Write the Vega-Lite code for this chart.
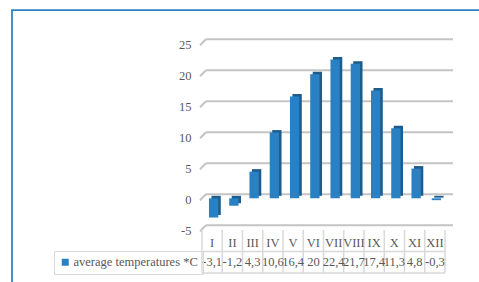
{
  "$schema": "https://vega.github.io/schema/vega-lite/v6.json",
  "width": 470,
  "height": 275,
  "autosize": {"type": "none"},
  "padding": {"left": 12, "top": 10, "right": -3, "bottom": -3},
  "background": "white",
  "config": {
    "font": "Liberation Serif",
    "view": {"stroke": "#2e80c3", "strokeWidth": 1.75},
    "axis": {"labelFont": "Liberation Serif"},
    "legend": {"labelFont": "Liberation Serif"},
    "locale": {"number": {"decimal": ",", "thousands": " ", "grouping": [3], "currency": ["", ""], "minus": "-"}}
  },
  "datasets": {
    "temps": [
      {"month": "I", "temp": -3.1},
      {"month": "II", "temp": -1.2},
      {"month": "III", "temp": 4.3},
      {"month": "IV", "temp": 10.6},
      {"month": "V", "temp": 16.4},
      {"month": "VI", "temp": 20},
      {"month": "VII", "temp": 22.4},
      {"month": "VIII", "temp": 21.7},
      {"month": "IX", "temp": 17.4},
      {"month": "X", "temp": 11.3},
      {"month": "XI", "temp": 4.8},
      {"month": "XII", "temp": -0.3}
    ],
    "grid": [{"v": -5}, {"v": 0}, {"v": 5}, {"v": 10}, {"v": 15}, {"v": 20}, {"v": 25}],
    "rows": [{"row": "v"}]
  },
  "data": {"name": "temps"},
  "layer": [
    {
      "layer": [
        {
          "data": {"name": "grid"},
          "mark": {"type": "rule", "color": "#c4c4c4", "strokeWidth": 2, "xOffset": 4, "x2Offset": 8, "yOffset": -4},
          "encoding": {
            "x": {"datum": "I", "type": "nominal", "bandPosition": 0,
                  "scale": {"type": "band", "domain": ["I","II","III","IV","V","VI","VII","VIII","IX","X","XI","XII"], "range": [190, 433], "paddingInner": 0, "paddingOuter": 0},
                  "axis": null},
            "x2": {"datum": "XII", "bandPosition": 1},
            "y": {"field": "v", "type": "quantitative",
                  "scale": {"domain": [-5, 25], "range": [219.3, 33.3], "nice": false, "zero": false},
                  "axis": {"orient": "left", "offset": -190, "values": [-5, 0, 5, 10, 15, 20, 25], "ticks": false, "domain": false, "grid": false, "labelPadding": 11, "labelFont": "Liberation Serif", "labelFontSize": 12.5, "labelColor": "#595959", "labelBaseline": "middle", "labelOffset": 1, "title": null}}
          }
        },
        {
          "data": {"name": "grid"},
          "mark": {"type": "rule", "color": "#c4c4c4", "strokeWidth": 2, "xOffset": -2, "x2Offset": 4, "yOffset": 2, "y2Offset": -4},
          "encoding": {
            "x": {"datum": "I", "type": "nominal", "bandPosition": 0},
            "x2": {"datum": "I", "bandPosition": 0},
            "y": {"field": "v", "type": "quantitative"},
            "y2": {"field": "v"}
          }
        },
        {
          "mark": {"type": "bar", "color": "#1d5c8d", "width": {"band": 0.46}, "xOffset": 4, "yOffset": -2.5},
          "encoding": {
            "x": {"field": "month", "type": "nominal"},
            "y": {"field": "temp", "type": "quantitative"}
          }
        },
        {
          "mark": {"type": "bar", "width": {"band": 0.46}, "xOffset": 1.5},
          "encoding": {
            "x": {"field": "month", "type": "nominal"},
            "y": {"field": "temp", "type": "quantitative"},
            "color": {"datum": "average temperatures *C", "type": "nominal",
                      "scale": {"range": ["#2981c4"]},
                      "legend": {"orient": "none", "legendX": 42, "legendY": 241, "title": null, "padding": 5, "strokeColor": "#d9d9d9", "symbolType": "square", "symbolSize": 49, "symbolStrokeWidth": 0, "labelFont": "Liberation Serif", "labelFontSize": 12.5, "labelColor": "#595959", "labelOffset": 2, "labelLimit": 0}}
          }
        }
      ]
    },
    {
      "layer": [
        {
          "mark": {"type": "rule", "color": "#d9d9d9", "strokeWidth": 1.5},
          "encoding": {
            "x": {"field": "month", "type": "nominal", "bandPosition": 0},
            "y": {"datum": "h", "type": "nominal", "bandPosition": 0,
                  "scale": {"type": "band", "domain": ["h", "v"], "range": [220, 263], "paddingInner": 0, "paddingOuter": 0},
                  "axis": null},
            "y2": {"datum": "v", "bandPosition": 1}
          }
        },
        {
          "data": {"name": "rows"},
          "mark": {"type": "rule", "color": "#d9d9d9", "strokeWidth": 1.5},
          "encoding": {
            "x": {"datum": "XII", "type": "nominal", "bandPosition": 1},
            "y": {"datum": "h", "type": "nominal", "bandPosition": 0},
            "y2": {"datum": "v", "bandPosition": 1}
          }
        },
        {
          "data": {"name": "rows"},
          "mark": {"type": "rule", "color": "#d9d9d9", "strokeWidth": 1.5},
          "encoding": {
            "x": {"datum": "I", "type": "nominal", "bandPosition": 0},
            "x2": {"datum": "XII", "bandPosition": 1},
            "y": {"field": "row", "type": "nominal", "bandPosition": 0}
          }
        },
        {
          "data": {"name": "rows"},
          "mark": {"type": "rule", "color": "#d9d9d9", "strokeWidth": 1.5},
          "encoding": {
            "x": {"datum": "I", "type": "nominal", "bandPosition": 0},
            "x2": {"datum": "XII", "bandPosition": 1},
            "y": {"field": "row", "type": "nominal", "bandPosition": 1}
          }
        },
        {
          "mark": {"type": "text", "font": "Liberation Serif", "fontSize": 12.5, "color": "#595959", "baseline": "middle", "dy": 2},
          "encoding": {
            "x": {"field": "month", "type": "nominal"},
            "y": {"datum": "h", "type": "nominal"},
            "text": {"field": "month", "type": "nominal"}
          }
        },
        {
          "mark": {"type": "text", "font": "Liberation Serif", "fontSize": 12.5, "color": "#595959", "baseline": "middle", "dy": -0.5},
          "encoding": {
            "x": {"field": "month", "type": "nominal"},
            "y": {"datum": "v", "type": "nominal"},
            "text": {"field": "temp", "type": "quantitative", "format": ".1~f"}
          }
        }
      ]
    }
  ],
  "resolve": {"scale": {"y": "independent"}, "axis": {"y": "independent"}}
}
